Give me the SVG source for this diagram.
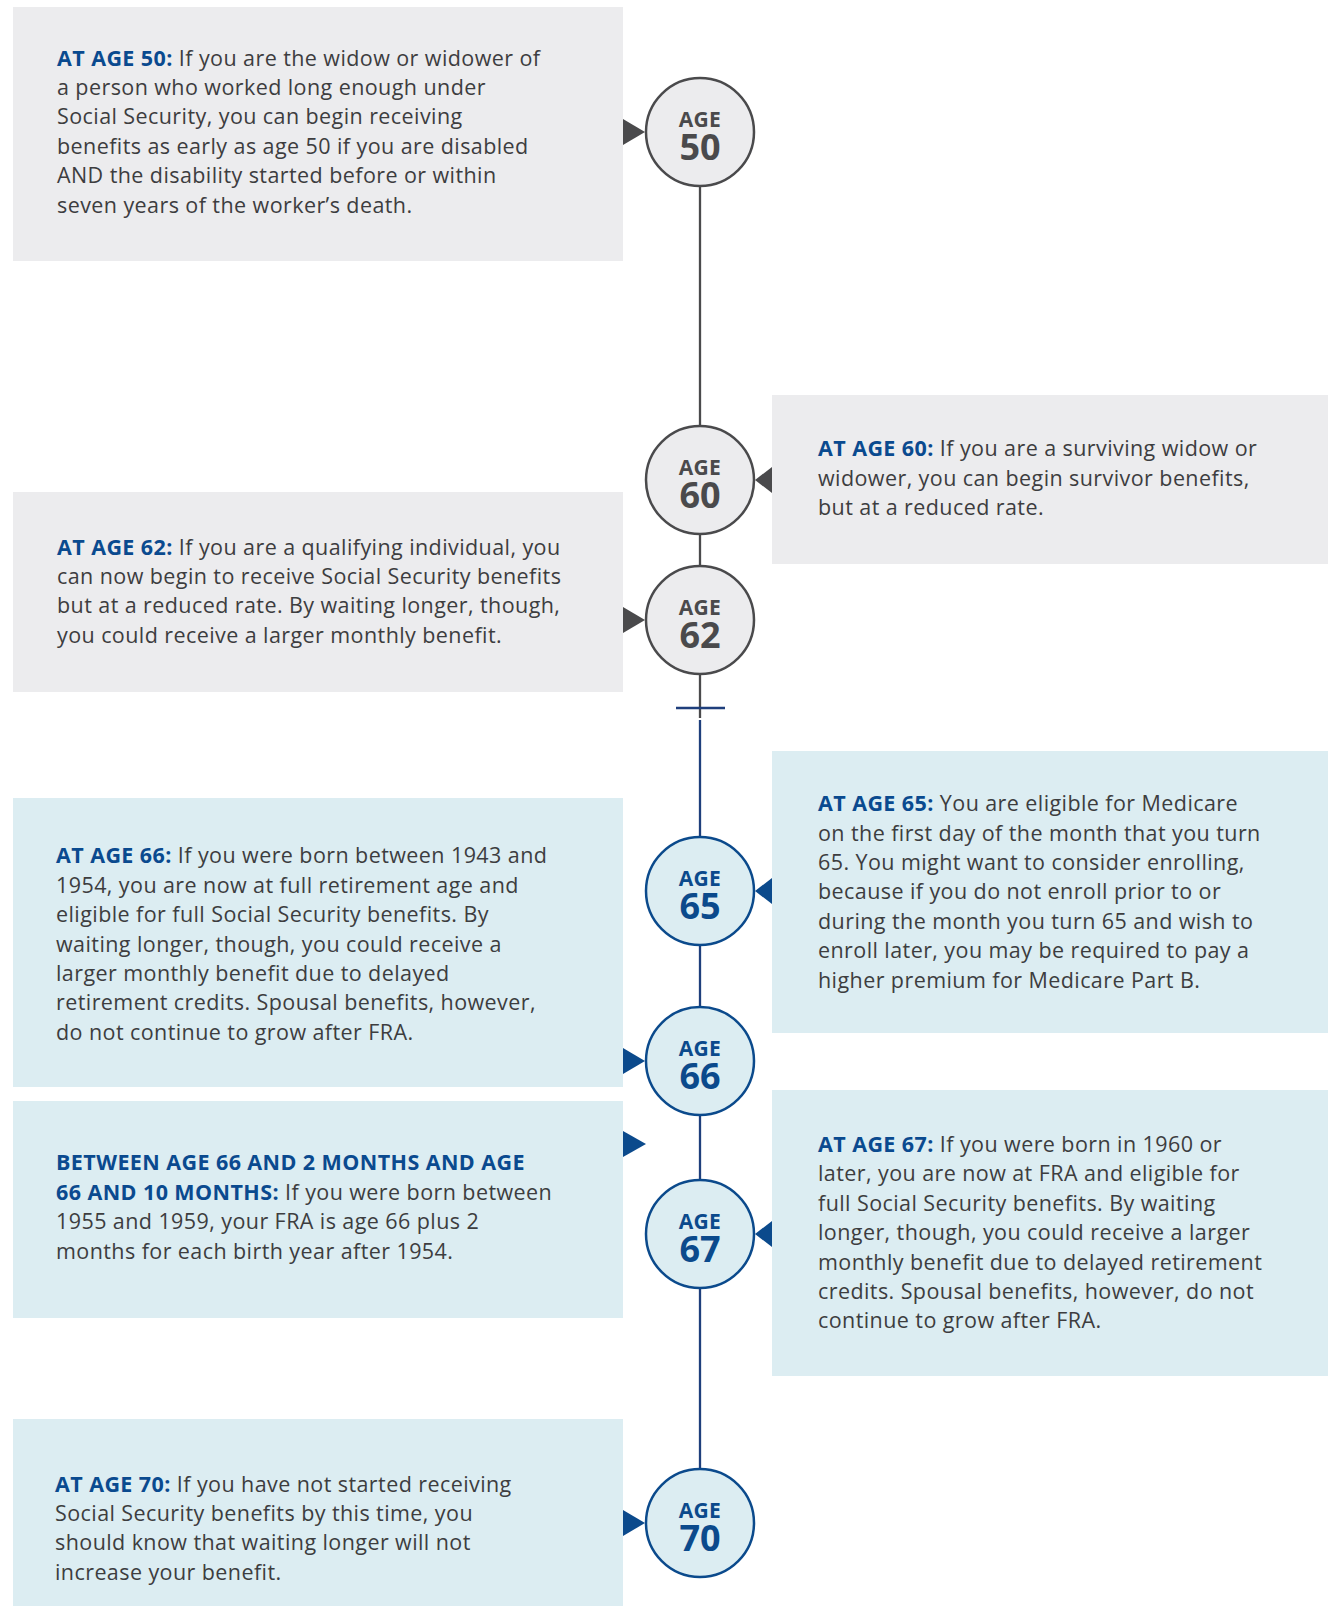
<svg xmlns="http://www.w3.org/2000/svg" width="1336" height="1606" viewBox="0 0 1336 1606">
<style>
.bg{fill:#ffffff}
.boxg{fill:#ececee}
.boxb{fill:#dcedf2}
.t{font-family:"Open Sans","Liberation Sans",sans-serif;font-size:21.5px;letter-spacing:0.42px;font-weight:500;fill:#3d3d3f}
.k{font-weight:700;fill:#0a4a8f}
.cg{fill:#ececee;stroke:#4a4a4c;stroke-width:2.5}
.cb{fill:#dcedf2;stroke:#0b4a8c;stroke-width:2.5}
.age{font-family:"Open Sans","Liberation Sans",sans-serif;font-weight:700;text-anchor:middle}
.a1{font-size:21px;letter-spacing:0.3px}
.a2{font-size:36px}
.tg{fill:#4a4a4c}
.tb{fill:#0b4a8c}
.lg{stroke:#4a4a4c;stroke-width:2.3;fill:none}
.lb{stroke:#1f3f7c;stroke-width:2.3;fill:none}
.ag{fill:#4a4a4c}
.ab{fill:#0b4a8c}
</style>
<rect class="bg" x="0" y="0" width="1336" height="1606"/>
<g id="connectors">
<line class="lg" x1="700" y1="186" x2="700" y2="426"/>
<line class="lg" x1="700" y1="534" x2="700" y2="566"/>
<line class="lg" x1="700" y1="674" x2="700" y2="718"/>
<line class="lb" x1="676" y1="708" x2="725" y2="708"/>
<line class="lb" x1="700" y1="720" x2="700" y2="837"/>
<line class="lb" x1="700" y1="945" x2="700" y2="1007"/>
<line class="lb" x1="700" y1="1115" x2="700" y2="1180"/>
<line class="lb" x1="700" y1="1288" x2="700" y2="1469"/>
<polygon class="ag" points="623,119 645,132 623,145"/>
<polygon class="ag" points="772,467 755,480 772,493"/>
<polygon class="ag" points="623,607 645,620 623,633"/>
<polygon class="ab" points="772,878 755,891 772,904"/>
<polygon class="ab" points="623,1048 645,1061 623,1074"/>
<polygon class="ab" points="623,1131 646,1144 623,1157"/>
<polygon class="ab" points="772,1221 755,1234 772,1247"/>
<polygon class="ab" points="623,1510 645,1523 623,1536"/>
</g>
<g id="box50">
<rect class="boxg" x="13" y="7" width="610" height="254"/>
<text class="t" x="57" y="65.5"><tspan class="k">AT AGE 50:</tspan> If you are the widow or widower of</text>
<text class="t" x="57" y="94.9">a person who worked long enough under</text>
<text class="t" x="57" y="124.3">Social Security, you can begin receiving</text>
<text class="t" x="57" y="153.7">benefits as early as age 50 if you are disabled</text>
<text class="t" x="57" y="183.1">AND the disability started before or within</text>
<text class="t" x="57" y="212.5">seven years of the worker’s death.</text>
</g>
<g id="box60">
<rect class="boxg" x="772" y="395" width="556" height="169"/>
<text class="t" x="818" y="456.3"><tspan class="k">AT AGE 60:</tspan> If you are a surviving widow or</text>
<text class="t" x="818" y="485.7">widower, you can begin survivor benefits,</text>
<text class="t" x="818" y="515.1">but at a reduced rate.</text>
</g>
<g id="box62">
<rect class="boxg" x="13" y="492" width="610" height="200"/>
<text class="t" x="57" y="554.5"><tspan class="k">AT AGE 62:</tspan> If you are a qualifying individual, you</text>
<text class="t" x="57" y="583.9">can now begin to receive Social Security benefits</text>
<text class="t" x="57" y="613.3">but at a reduced rate. By waiting longer, though,</text>
<text class="t" x="57" y="642.7">you could receive a larger monthly benefit.</text>
</g>
<g id="box65">
<rect class="boxb" x="772" y="751" width="556" height="282"/>
<text class="t" x="818" y="811.2"><tspan class="k">AT AGE 65:</tspan> You are eligible for Medicare</text>
<text class="t" x="818" y="840.6">on the first day of the month that you turn</text>
<text class="t" x="818" y="870">65. You might want to consider enrolling,</text>
<text class="t" x="818" y="899.4">because if you do not enroll prior to or</text>
<text class="t" x="818" y="928.8">during the month you turn 65 and wish to</text>
<text class="t" x="818" y="958.2">enroll later, you may be required to pay a</text>
<text class="t" x="818" y="987.6">higher premium for Medicare Part B.</text>
</g>
<g id="box66">
<rect class="boxb" x="13" y="798" width="610" height="289"/>
<text class="t" x="56" y="863.4"><tspan class="k">AT AGE 66:</tspan> If you were born between 1943 and</text>
<text class="t" x="56" y="892.8">1954, you are now at full retirement age and</text>
<text class="t" x="56" y="922.2">eligible for full Social Security benefits. By</text>
<text class="t" x="56" y="951.6">waiting longer, though, you could receive a</text>
<text class="t" x="56" y="981">larger monthly benefit due to delayed</text>
<text class="t" x="56" y="1010.4">retirement credits. Spousal benefits, however,</text>
<text class="t" x="56" y="1039.8">do not continue to grow after FRA.</text>
</g>
<g id="boxBetween">
<rect class="boxb" x="13" y="1101" width="610" height="217"/>
<text class="t" x="56" y="1170.3"><tspan class="k">BETWEEN AGE 66 AND 2 MONTHS AND AGE</tspan></text>
<text class="t" x="56" y="1199.7"><tspan class="k">66 AND 10 MONTHS:</tspan> If you were born between</text>
<text class="t" x="56" y="1229.1">1955 and 1959, your FRA is age 66 plus 2</text>
<text class="t" x="56" y="1258.5">months for each birth year after 1954.</text>
</g>
<g id="box67">
<rect class="boxb" x="772" y="1090" width="556" height="286"/>
<text class="t" x="818" y="1151.9"><tspan class="k">AT AGE 67:</tspan> If you were born in 1960 or</text>
<text class="t" x="818" y="1181.3">later, you are now at FRA and eligible for</text>
<text class="t" x="818" y="1210.7">full Social Security benefits. By waiting</text>
<text class="t" x="818" y="1240.1">longer, though, you could receive a larger</text>
<text class="t" x="818" y="1269.5">monthly benefit due to delayed retirement</text>
<text class="t" x="818" y="1298.9">credits. Spousal benefits, however, do not</text>
<text class="t" x="818" y="1328.3">continue to grow after FRA.</text>
</g>
<g id="box70">
<rect class="boxb" x="13" y="1419" width="610" height="187"/>
<text class="t" x="55" y="1491.5"><tspan class="k">AT AGE 70:</tspan> If you have not started receiving</text>
<text class="t" x="55" y="1520.9">Social Security benefits by this time, you</text>
<text class="t" x="55" y="1550.3">should know that waiting longer will not</text>
<text class="t" x="55" y="1579.7">increase your benefit.</text>
</g>
<g id="age50">
<circle class="cg" cx="700" cy="132" r="54"/>
<text class="age tg"><tspan class="a1" x="700" y="127">AGE</tspan><tspan class="a2" x="700" y="160">50</tspan></text>
</g>
<g id="age60">
<circle class="cg" cx="700" cy="480" r="54"/>
<text class="age tg"><tspan class="a1" x="700" y="475">AGE</tspan><tspan class="a2" x="700" y="508">60</tspan></text>
</g>
<g id="age62">
<circle class="cg" cx="700" cy="620" r="54"/>
<text class="age tg"><tspan class="a1" x="700" y="615">AGE</tspan><tspan class="a2" x="700" y="648">62</tspan></text>
</g>
<g id="age65">
<circle class="cb" cx="700" cy="891" r="54"/>
<text class="age tb"><tspan class="a1" x="700" y="886">AGE</tspan><tspan class="a2" x="700" y="919">65</tspan></text>
</g>
<g id="age66">
<circle class="cb" cx="700" cy="1061" r="54"/>
<text class="age tb"><tspan class="a1" x="700" y="1056">AGE</tspan><tspan class="a2" x="700" y="1089">66</tspan></text>
</g>
<g id="age67">
<circle class="cb" cx="700" cy="1234" r="54"/>
<text class="age tb"><tspan class="a1" x="700" y="1229">AGE</tspan><tspan class="a2" x="700" y="1262">67</tspan></text>
</g>
<g id="age70">
<circle class="cb" cx="700" cy="1523" r="54"/>
<text class="age tb"><tspan class="a1" x="700" y="1518">AGE</tspan><tspan class="a2" x="700" y="1551">70</tspan></text>
</g>
</svg>
